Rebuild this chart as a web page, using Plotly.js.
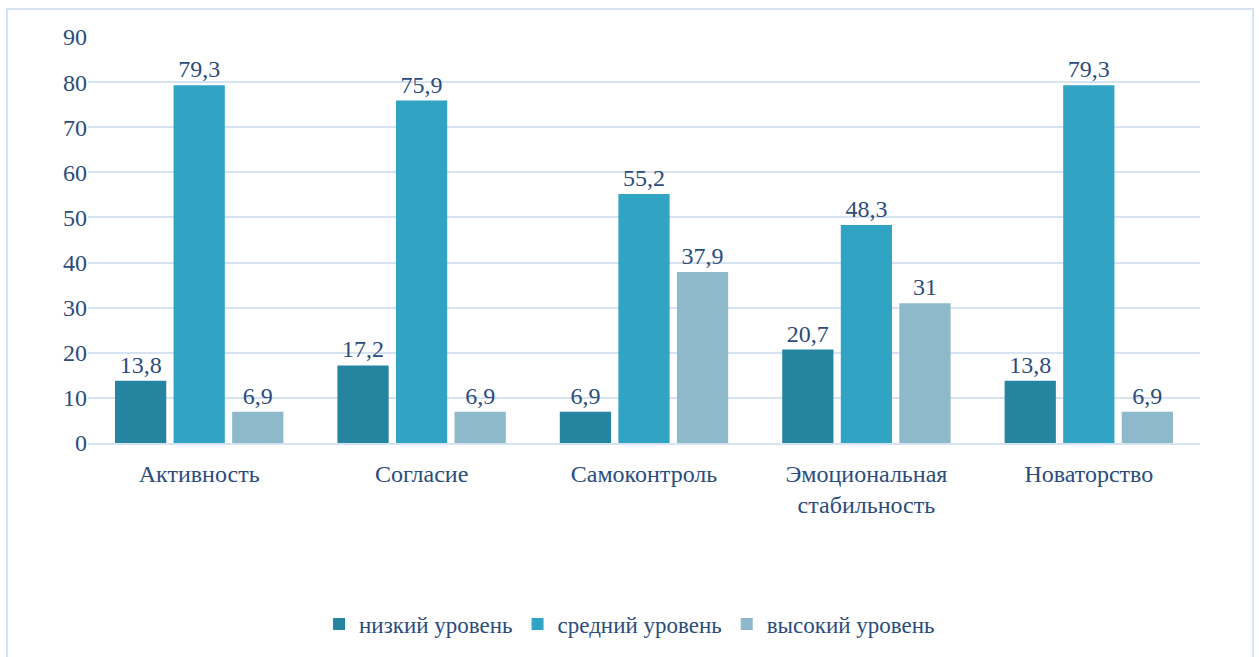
<!DOCTYPE html>
<html><head><meta charset="utf-8">
<script src="https://cdn.plot.ly/plotly-3.0.1.min.js"></script>
<style>
html,body{margin:0;padding:0;background:#fff;}
#wrap{position:relative;width:1259px;height:657px;overflow:hidden;}
#chart{width:1259px;height:657px;}
#frame{position:absolute;left:6px;top:8px;width:1244px;height:660px;border:2px solid #D6E3F2;pointer-events:none;}
</style>
</head><body><div id="wrap"><div id="chart"></div><div id="frame"></div></div>
<script>
const categories = ["Активность", "Согласие", "Самоконтроль", "Эмоциональная<br>стабильность", "Новаторство"];
const seriesNames = ["низкий уровень", "средний уровень", "высокий уровень"];
const lowValues = [13.8, 17.2, 6.9, 20.7, 13.8];
const midValues = [79.3, 75.9, 55.2, 48.3, 79.3];
const highValues = [6.9, 6.9, 37.9, 31, 6.9];
const yTicks = [0, 10, 20, 30, 40, 50, 60, 70, 80, 90];

const textColor = "#2C4C7C";
const mkFont = (s) => ({family: "Liberation Serif", size: s, color: textColor});
const fmt = v => String(v).replace(".", ",");

function series(name, vals, color) {
  return {
    type: "bar", name: name, x: categories, y: vals,
    text: vals.map(fmt), textposition: "outside", cliponaxis: false,
    textfont: mkFont(24),
    marker: {color: color}
  };
}
const data = [
  series(seriesNames[0], lowValues, "#2585A0"),
  series(seriesNames[1], midValues, "#31A4C4"),
  series(seriesNames[2], highValues, "#8DB9CA")
];
const layout = {
  width: 1259, height: 657,
  margin: {l: 88, r: 59, t: 37, b: 212},
  font: mkFont(24),
  barmode: "group", bargap: 0.21, bargroupgap: 0.125,
  showlegend: true,
  legend: {orientation: "h", x: 0.487, xanchor: "center", y: -0.446, yanchor: "middle", font: mkFont(23)},
  xaxis: {showline: true, linecolor: "#D6E3F2", linewidth: 2, tickfont: mkFont(24), ticklabelstandoff: 8},
  yaxis: {range: [0, 90], tickvals: yTicks, gridcolor: "#D6E3F2", gridwidth: 2, zeroline: false, tickfont: mkFont(24)}
};
Plotly.newPlot("chart", data, layout, {displayModeBar: false, staticPlot: true});
</script></body></html>
